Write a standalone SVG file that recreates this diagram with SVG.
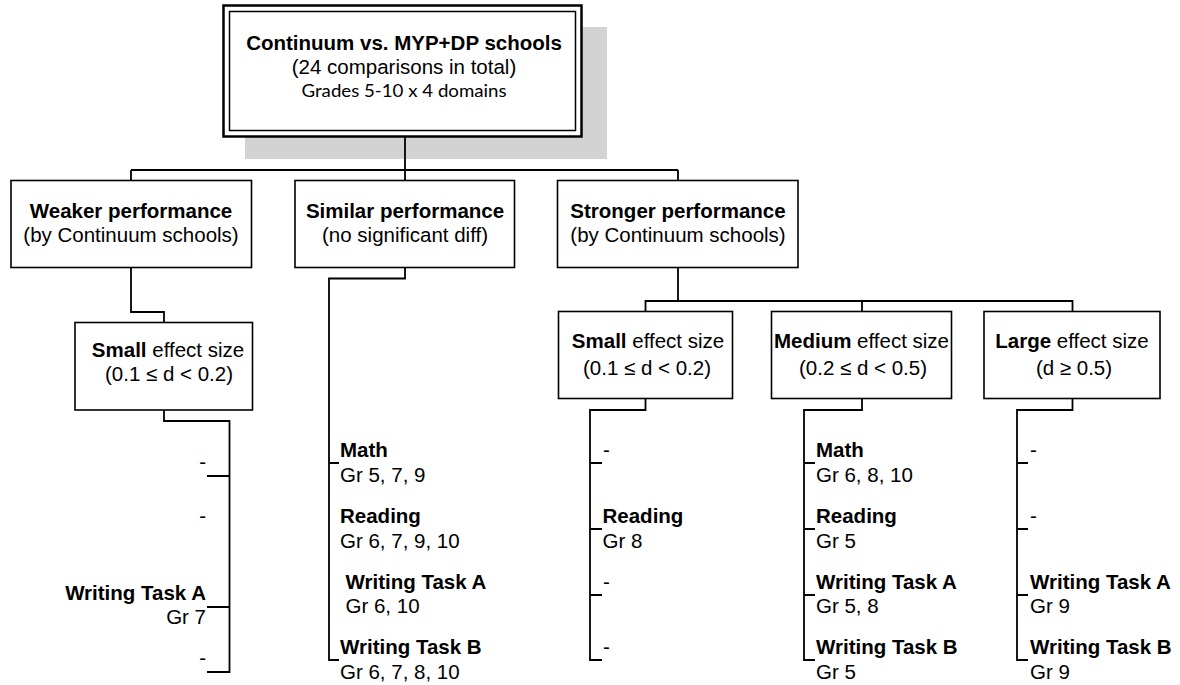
<svg xmlns="http://www.w3.org/2000/svg" width="1180" height="685" viewBox="0 0 1180 685">
<style>
.t{font-family:"Liberation Sans",Arial,sans-serif;font-size:20.5px;fill:#000}
.b{font-weight:bold}
.c{text-anchor:middle}
.e{text-anchor:end}
.box{fill:#fff;stroke:#000;stroke-width:1.6}
.ln{fill:none;stroke:#000;stroke-width:1.8}
</style>
<rect width="1180" height="685" fill="#fff"/>
<g id="title">
<rect x="245" y="27" width="362" height="132" fill="#d3d3d3"/>
<rect x="223.5" y="5.5" width="358" height="131" fill="#fff" stroke="#000" stroke-width="2.5"/>
<rect x="229.5" y="11.5" width="346" height="119" fill="none" stroke="#000" stroke-width="1.5"/>
<text class="t b c" x="404" y="50">Continuum vs. MYP+DP schools</text>
<text class="t c" x="404" y="74">(24 comparisons in total)</text>
<text x="404" y="97" text-anchor="middle" font-family="Lato,'Open Sans',sans-serif" font-size="17" textLength="205" lengthAdjust="spacingAndGlyphs">Grades 5-10 x 4 domains</text>
</g>
<g id="connectors">
<path class="ln" d="M405,137 V170 M131,170 H678 M131,170 V180 M405,170 V180 M678,170 V180"/>
<path class="ln" d="M131,268 V312 H164 V323"/>
<path class="ln" d="M164,410 V421 H229.5 V672 H207 M207,476 H229.5 M207,607 H229.5"/>
<path class="ln" d="M405,268 V278.5 H329 V660 H339 M329,463 H339"/>
<path class="ln" d="M678,268 V301 M645.5,312 V301 H1072.5 V312 M862,301 V312"/>
<path class="ln" d="M645.5,398 V410 H590 V660 H602 M590,463 H602 M590,529 H602 M590,595 H602"/>
<path class="ln" d="M862,398 V410 H804 V660 H815 M804,463 H815 M804,529 H815 M804,595 H815"/>
<path class="ln" d="M1072.5,398 V410 H1017 V660 H1028 M1017,463 H1028 M1017,529 H1028 M1017,595 H1028"/>
</g>
<g id="weaker">
<rect class="box" x="11" y="180.5" width="240.5" height="87"/>
<text class="t b c" x="131" y="218">Weaker performance</text>
<text class="t c" x="131" y="241.5">(by Continuum schools)</text>
</g>
<g id="similar">
<rect class="box" x="295" y="180.5" width="219.5" height="87"/>
<text class="t b c" x="405" y="218">Similar performance</text>
<text class="t c" x="405" y="241.5">(no significant diff)</text>
</g>
<g id="stronger">
<rect class="box" x="557.5" y="180.5" width="240.5" height="87"/>
<text class="t b c" x="678" y="218">Stronger performance</text>
<text class="t c" x="678" y="241.5">(by Continuum schools)</text>
</g>
<g id="weaker-small">
<rect class="box" x="75" y="322.5" width="177.5" height="87.5"/>
<text class="t c" x="168" y="357"><tspan class="b">Small</tspan> effect size</text>
<text class="t c" x="169" y="381">(0.1 ≤ d &lt; 0.2)</text>
</g>
<g id="stronger-small">
<rect class="box" x="558.5" y="311.5" width="174" height="87"/>
<text class="t c" x="648" y="348"><tspan class="b">Small</tspan> effect size</text>
<text class="t c" x="647" y="375">(0.1 ≤ d &lt; 0.2)</text>
</g>
<g id="stronger-medium">
<rect class="box" x="771.5" y="311.5" width="180" height="87"/>
<text class="t c" x="861.5" y="348"><tspan class="b">Medium</tspan> effect size</text>
<text class="t c" x="863" y="375">(0.2 ≤ d &lt; 0.5)</text>
</g>
<g id="stronger-large">
<rect class="box" x="984" y="311.5" width="176" height="87"/>
<text class="t c" x="1072" y="348"><tspan class="b">Large</tspan> effect size</text>
<text class="t c" x="1074" y="375">(d ≥ 0.5)</text>
</g>
<g id="weaker-small-items">
<text class="t e" x="206" y="469">-</text>
<text class="t e" x="206" y="523">-</text>
<text class="t b e" x="206" y="600">Writing Task A</text>
<text class="t e" x="206" y="624">Gr 7</text>
<text class="t e" x="206" y="665">-</text>
</g>
<g id="similar-items">
<text class="t b" x="340" y="457">Math</text>
<text class="t" x="340" y="481.5">Gr 5, 7, 9</text>
<text class="t b" x="340" y="523">Reading</text>
<text class="t" x="340" y="547.5">Gr 6, 7, 9, 10</text>
<text class="t b" x="345.5" y="588.5">Writing Task A</text>
<text class="t" x="345.5" y="612.5">Gr 6, 10</text>
<text class="t b" x="340" y="654">Writing Task B</text>
<text class="t" x="340" y="678.5">Gr 6, 7, 8, 10</text>
</g>
<g id="stronger-small-items">
<text class="t" x="603" y="457">-</text>
<text class="t b" x="602.5" y="523">Reading</text>
<text class="t" x="602.5" y="547.5">Gr 8</text>
<text class="t" x="603" y="588.5">-</text>
<text class="t" x="603" y="654">-</text>
</g>
<g id="stronger-medium-items">
<text class="t b" x="816" y="457">Math</text>
<text class="t" x="816" y="481.5">Gr 6, 8, 10</text>
<text class="t b" x="816" y="523">Reading</text>
<text class="t" x="816" y="547.5">Gr 5</text>
<text class="t b" x="816" y="588.5">Writing Task A</text>
<text class="t" x="816" y="612.5">Gr 5, 8</text>
<text class="t b" x="816" y="654">Writing Task B</text>
<text class="t" x="816" y="678.5">Gr 5</text>
</g>
<g id="stronger-large-items">
<text class="t" x="1030" y="457">-</text>
<text class="t" x="1030" y="523">-</text>
<text class="t b" x="1030" y="588.5">Writing Task A</text>
<text class="t" x="1030" y="612.5">Gr 9</text>
<text class="t b" x="1030" y="654">Writing Task B</text>
<text class="t" x="1030" y="678.5">Gr 9</text>
</g>
</svg>
